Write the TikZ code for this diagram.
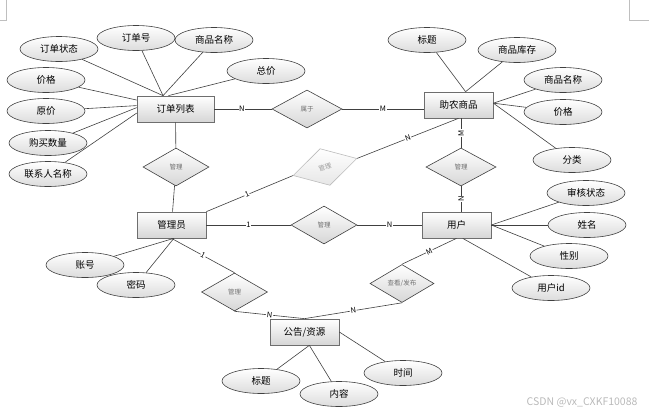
\documentclass[tikz,border=0pt]{standalone}
\usepackage{fontspec}
\setmainfont{Noto Sans CJK SC}
\usepackage{xcolor}
\usepackage{tikz}
\usetikzlibrary{shapes.geometric}
\definecolor{cink}{HTML}{404040}
\definecolor{cbox}{HTML}{6E6E6E}
\definecolor{cshade}{HTML}{D6D6D6}
\definecolor{crel}{HTML}{707070}
\tikzset{
  ent/.style={draw=cbox,line width=0.7pt,top color=white,bottom color=cshade,minimum width=69pt,minimum height=26pt,inner sep=0pt,font=\fontsize{9.5}{11}\selectfont},
  attr/.style={ellipse,draw=cink,line width=0.6pt,top color=white,bottom color=cshade!85,minimum width=78pt,minimum height=25pt,inner sep=0pt,font=\fontsize{9.5}{11}\selectfont},
  rel/.style={diamond,draw=cink,line width=0.6pt,top color=white,bottom color=cshade,minimum width=66pt,minimum height=38pt,inner sep=0pt,text=crel,font=\fontsize{6.5}{7}\selectfont},
  con/.style={draw=cink,line width=0.6pt},
  card/.style={fill=white,inner sep=0.6pt,text=black,font=\fontsize{7.5}{8}\selectfont},
}

\begin{document}
\begin{tikzpicture}[x=1pt,y=-1pt]
\useasboundingbox (0,0) rectangle (649,413);

% page corner marks
\draw[gray!50,line width=0.5pt] (6,0) -- (6,20) -- (0,20);
\draw[gray!50,line width=0.5pt] (629,0) -- (629,20) -- (649,20);

% ================= entities =================
\node[ent,minimum width=77pt] (order) at (175.5,109) {订单列表};
\node[ent] (prod) at (458.5,105) {助农商品};
\node[ent] (admin) at (171.5,225) {管理员};
\node[ent] (user) at (456.5,225) {用户};
\node[ent] (notice) at (304.5,332) {公告/资源};

% ================= relations =================
\node[rel,minimum width=70pt] (relBelong) at (307,109) {属于};
\node[rel] (relOrdAdm) at (176,167) {管理};
\node[rel,minimum width=70pt] (relProdUser) at (461,167) {管理};
\node[rel] (relAdmUser) at (324,225) {管理};
\node[rel] (relAdmNotice) at (234.5,292) {管理};
\node[rel,minimum width=64pt] (relView) at (402,283.5) {查看/发布};
\node[rel,draw=cink!35,bottom color=cshade!60,text=crel!70,rotate=15] (relAdmProd) at (325,167) {管理};

% ================= attributes =================
% order list
\node[attr] (aOrdState) at (59,49) {订单状态};
\node[attr] (aOrdNo) at (136,38) {订单号};
\node[attr] (aOrdName) at (214,40) {商品名称};
\node[attr] (aOrdTotal) at (266,71) {总价};
\node[attr] (aOrdPrice) at (46,80) {价格};
\node[attr] (aOrdCost) at (46,111) {原价};
\node[attr] (aOrdQty) at (48,143) {购买数量};
\node[attr] (aOrdContact) at (48,174) {联系人名称};
% product
\node[attr] (aProdTitle) at (427,40) {标题};
\node[attr] (aProdStock) at (517,50) {商品库存};
\node[attr] (aProdName) at (563,80) {商品名称};
\node[attr] (aProdPrice) at (563,112) {价格};
\node[attr] (aProdType) at (572,160) {分类};
% user
\node[attr] (aUserAudit) at (586,193) {审核状态};
\node[attr] (aUserName) at (587,225) {姓名};
\node[attr] (aUserSex) at (569,256) {性别};
\node[attr] (aUserId) at (551,288) {用户id};
% admin
\node[attr] (aAdmAcc) at (85,265) {账号};
\node[attr] (aAdmPwd) at (136,285) {密码};
% notice
\node[attr] (aNoteTitle) at (261,381) {标题};
\node[attr] (aNoteBody) at (339,394) {内容};
\node[attr] (aNoteTime) at (403,373) {时间};

% ================= relation links =================
\draw[con] (order) -- (relBelong) node[card,pos=0.48]{N};
\draw[con] (relBelong) -- (relBelong -| prod.west) node[card,pos=0.5]{M};
\draw[con] (order) -- (relOrdAdm);
\draw[con] (relOrdAdm) -- (admin);
\draw[con] (relProdUser.north |- prod.south) -- (relProdUser.north) node[card,pos=0.5,rotate=90]{M};
\draw[con] (relProdUser.south) -- (relProdUser.south |- user.north) node[card,pos=0.5,rotate=90]{N};
\draw[con] (admin) -- (relAdmUser) node[card,pos=0.5]{1};
\draw[con] (relAdmUser) -- (user) node[card,pos=0.5]{N};
\draw[con] (admin.north east) -- (relAdmProd.west) node[card,pos=0.47,sloped]{1};
\draw[con] (relAdmProd.east) -- (prod.south) node[card,pos=0.5,sloped]{N};
\draw[con] (admin.south) -- (relAdmNotice.north) node[card,pos=0.5,sloped]{1};
\draw[con] (relAdmNotice.south) -- (notice.north) node[card,pos=0.5,sloped]{N};
\draw[con] (user.south) -- (relView.north) node[card,pos=0.5,sloped]{M};
\draw[con] (relView.south) -- (notice.north) node[card,pos=0.5,sloped]{N};

% ================= attribute links =================
\draw[con] (aOrdState) -- (order.133);
\draw[con] (aOrdNo) -- (order.133);
\draw[con] (aOrdName) -- (order.133);
\draw[con] (aOrdTotal) -- (order.118);
\draw[con] (aOrdPrice) -- (order.167);
\draw[con] (aOrdCost) -- (order.175);
\draw[con] (aOrdQty) -- (order.178);
\draw[con] (aOrdContact) -- (order.186);
\draw[con] (aProdTitle) -- (prod.62);
\draw[con] (aProdStock) -- (prod.62);
\draw[con] (aProdName) -- (prod.3);
\draw[con] (aProdPrice) -- (prod.3);
\draw[con] (aProdType) -- (prod.3);
\draw[con] (aUserAudit) -- (user.east);
\draw[con] (aUserName) -- (user.east);
\draw[con] (aUserSex) -- (user.east);
\draw[con] (aUserId) -- (user.295);
\draw[con] (aAdmAcc) -- (admin.280);
\draw[con] (aAdmPwd) -- (admin.280);
\draw[con] (aNoteTitle) -- (notice.290);
\draw[con] (aNoteBody) -- (notice.290);
\draw[con] (aNoteTime) -- (notice.east);

% watermark
\node[text=gray!55,font=\fontsize{10.5}{11}\selectfont,anchor=east] (mark) at (641,402) {CSDN @vx\_CXKF10088};
\end{tikzpicture}
\end{document}
